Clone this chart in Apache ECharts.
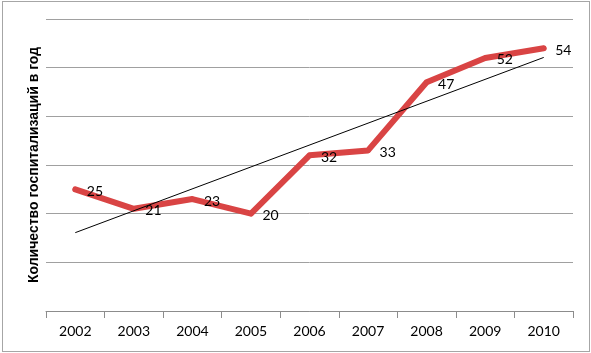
<!DOCTYPE html>
<html>
<head>
<meta charset="utf-8">
<script src="https://cdn.jsdelivr.net/npm/echarts@6/dist/echarts.min.js"></script>
<style>
  html, body { margin: 0; padding: 0; background: #fff; }
  #chart { position: absolute; left: 2px; top: 1px; width: 586px; height: 349px; border: 1px solid #a6a6a6; }
</style>
</head>
<body>
<div id="chart"></div>
<script>
// годы и значения
const years = ['2002', '2003', '2004', '2005', '2006', '2007', '2008', '2009', '2010'];
const admissions = [25, 21, 23, 20, 32, 33, 47, 52, 54];
// линия тренда (концы)
const trend = [16.1, null, null, null, null, null, null, null, 52.1];
const yTitle = 'Количество госпитализаций в год';

const chart = echarts.init(document.getElementById('chart'));

const option = {
  animation: false,
  grid: { left: 43, right: 16, top: 17, bottom: 40 },
  xAxis: {
    type: 'category',
    data: years,
    boundaryGap: true,
    axisLine: { lineStyle: { color: '#8c8c8c', width: 1 } },
    axisTick: { show: true, length: 7, lineStyle: { color: '#8c8c8c' } },
    axisLabel: { color: '#000', fontFamily: 'Lato', fontSize: 14, margin: 13 }
  },
  yAxis: {
    type: 'value',
    min: 0,
    max: 60,
    interval: 10,
    name: yTitle,
    nameLocation: 'middle',
    nameGap: 5,
    nameTextStyle: { color: '#000', fontFamily: 'Liberation Sans', fontWeight: 'bold', fontSize: 14 },
    axisLine: { show: false },
    axisTick: { show: false },
    axisLabel: { show: false },
    splitLine: { lineStyle: { color: '#a0a0a0', width: 1 } }
  },
  series: [
    {
      name: 'Госпитализации',
      type: 'line',
      data: admissions,
      symbol: 'circle',
      symbolSize: 5,
      showSymbol: true,
      itemStyle: { color: '#d94444' },
      lineStyle: { color: '#d94444', width: 6, join: 'round', cap: 'round' },
      label: {
        show: true,
        position: 'right',
        distance: 9,
        offset: [0, 2],
        color: '#000',
        fontFamily: 'Lato',
        fontSize: 14
      },
      z: 2
    },
    {
      name: 'Тренд',
      type: 'line',
      data: trend,
      connectNulls: true,
      symbol: 'none',
      lineStyle: { color: '#000', width: 1 },
      z: 3
    }
  ]
};

chart.setOption(option);
</script>
</body>
</html>
